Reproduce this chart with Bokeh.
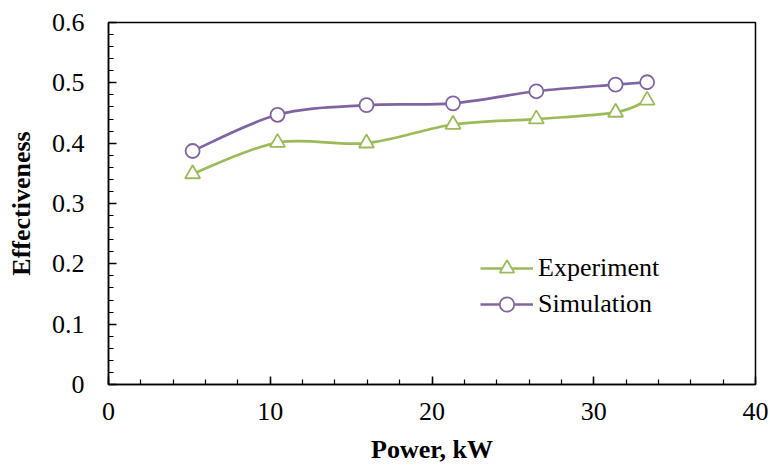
import numpy as np
from bokeh.plotting import figure
from bokeh.models import Range1d, FixedTicker, Legend, LegendItem, ColumnDataSource
from bokeh.embed import file_html
from bokeh.resources import INLINE

# ---- data ----
power = [5.2, 10.45, 15.95, 21.3, 26.45, 31.35, 33.3]
experiment = [0.349, 0.401, 0.400, 0.431, 0.440, 0.451, 0.471]
simulation = [0.387, 0.447, 0.463, 0.466, 0.486, 0.497, 0.501]
x_ticks = [0, 10, 20, 30, 40]
x_labels = ["0", "10", "20", "30", "40"]
y_ticks = [0, 0.1, 0.2, 0.3, 0.4, 0.5, 0.6]
y_labels = ["0", "0.1", "0.2", "0.3", "0.4", "0.5", "0.6"]

GREEN = "#9BBB59"
PURPLE = "#8064A2"
FONT = "Liberation Serif"


def smooth_segments(xs, ys):
    """Catmull-Rom style Bezier control points (like a spreadsheet 'smoothed line')."""
    pts = np.column_stack([xs, ys]).astype(float)
    P = np.vstack([pts[0], pts, pts[-1]])
    d = dict(x0=[], y0=[], x1=[], y1=[], cx0=[], cy0=[], cx1=[], cy1=[])
    for i in range(len(pts) - 1):
        p0, p1, p2, p3 = P[i], P[i + 1], P[i + 2], P[i + 3]
        c1 = p1 + (p2 - p0) / 6.0
        c2 = p2 - (p3 - p1) / 6.0
        d["x0"].append(p1[0]); d["y0"].append(p1[1])
        d["x1"].append(p2[0]); d["y1"].append(p2[1])
        d["cx0"].append(c1[0]); d["cy0"].append(c1[1])
        d["cx1"].append(c2[0]); d["cy1"].append(c2[1])
    return ColumnDataSource(d)


p = figure(width=770, height=468, output_backend="svg", toolbar_location=None,
           x_range=Range1d(0, 40), y_range=Range1d(0, 0.6),
           min_border_left=108, min_border_right=15, min_border_top=22, min_border_bottom=84)

p.xgrid.visible = False
p.ygrid.visible = False
p.outline_line_color = "black"
p.outline_line_width = 1.5
p.background_fill_color = "white"

# curves
p.bezier(x0="x0", y0="y0", x1="x1", y1="y1", cx0="cx0", cy0="cy0", cx1="cx1", cy1="cy1",
         source=smooth_segments(power, experiment), line_color=GREEN, line_width=2.7)
p.bezier(x0="x0", y0="y0", x1="x1", y1="y1", cx0="cx0", cy0="cy0", cx1="cx1", cy1="cy1",
         source=smooth_segments(power, simulation), line_color=PURPLE, line_width=2.7)

s_exp = p.scatter(power, experiment, marker="triangle", size=15, line_color=GREEN,
                  fill_color="white", line_width=1.8)
s_sim = p.scatter(power, simulation, marker="circle", size=14, line_color=PURPLE,
                  fill_color="white", line_width=1.8)

# legend-only lines (placed outside the visible ranges)
l_exp = p.line([-10, -9], [-1, -1], line_color=GREEN, line_width=2.7)
l_sim = p.line([-10, -9], [-1, -1], line_color=PURPLE, line_width=2.7)

legend = Legend(items=[LegendItem(label="Experiment", renderers=[l_exp, s_exp]),
                       LegendItem(label="Simulation", renderers=[l_sim, s_sim])],
                location=(372, 62), padding=0, margin=0, spacing=0,
                label_height=36, glyph_height=36, glyph_width=53, label_standoff=5,
                border_line_alpha=0, background_fill_alpha=0,
                label_text_font=FONT, label_text_font_size="26px", label_text_color="black")
p.add_layout(legend, "center")

# axes
for ax in (p.xaxis[0], p.yaxis[0]):
    ax.axis_line_color = "black"
    ax.axis_line_width = 1.5
    ax.major_tick_line_color = "black"
    ax.minor_tick_line_color = "black"
    ax.major_tick_line_width = 1.5
    ax.minor_tick_line_width = 1.2
    ax.major_tick_in = 8
    ax.major_tick_out = 0
    ax.minor_tick_in = 5
    ax.minor_tick_out = 0
    ax.major_label_text_font = FONT
    ax.major_label_text_font_size = "26px"
    ax.major_label_text_color = "black"
    ax.axis_label_text_font = FONT
    ax.axis_label_text_font_size = "26px"
    ax.axis_label_text_font_style = "bold"
    ax.axis_label_text_color = "black"

p.xaxis.ticker = FixedTicker(ticks=x_ticks, minor_ticks=list(np.arange(0, 41, 2)))
p.yaxis.ticker = FixedTicker(ticks=y_ticks, minor_ticks=[round(v, 2) for v in np.arange(0, 0.61, 0.02)])
p.xaxis.major_label_overrides = {t: l for t, l in zip(x_ticks, x_labels)}
p.yaxis.major_label_overrides = {t: l for t, l in zip(y_ticks, y_labels)}
p.xaxis.axis_label = "Power, kW"
p.yaxis.axis_label = "Effectiveness"
p.xaxis.major_label_standoff = 18
p.yaxis.major_label_standoff = 24
p.xaxis.axis_label_standoff = 12
p.yaxis.axis_label_standoff = 13

open("out.html", "w").write(file_html(p, INLINE))
